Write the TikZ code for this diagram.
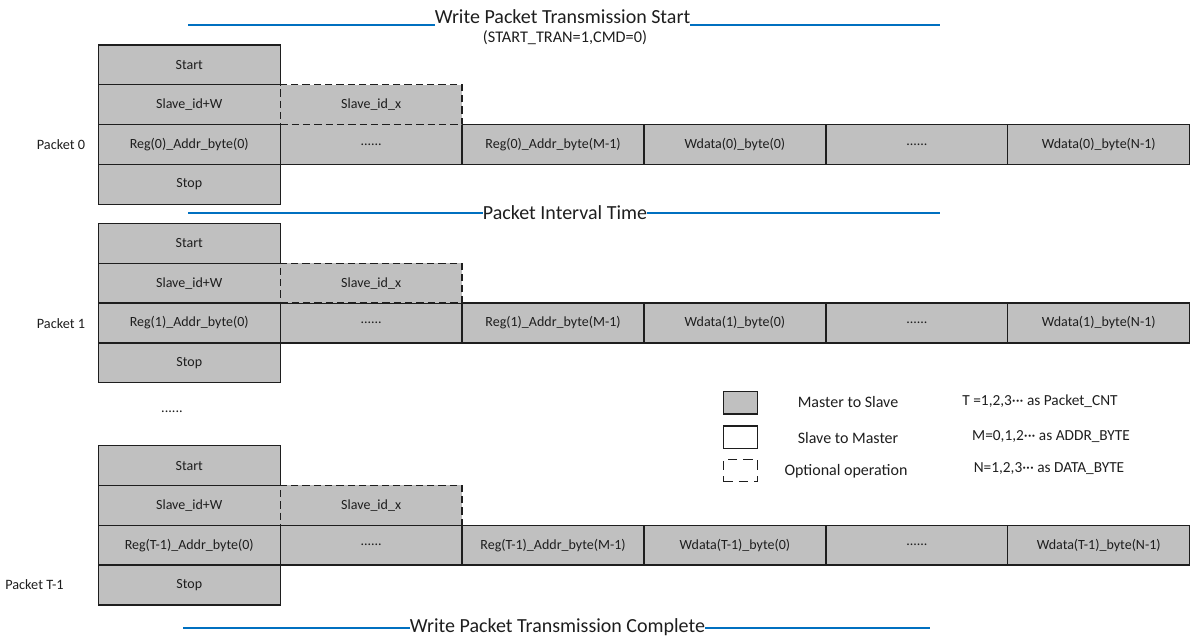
\documentclass[tikz,border=0pt]{standalone}
\usepackage{fontspec}
\setmainfont{Carlito}
\definecolor{boxgray}{RGB}{192,192,192}
\definecolor{lineblue}{RGB}{0,112,192}
\definecolor{ink}{RGB}{30,30,30}
\newcommand\drawpacket[3]{%
  \node[cell] (#1start) at (98.3,#2) {Start};
  \node[cell] (#1slv) at (98.3,#2+39.8) {Slave\_id+W};
  \node[cell] (#1rega) at (98.3,#2+79.6) {Reg(#3)\_Addr\_byte(0)};
  \node[cell] (#1regd) at (280.2,#2+79.6) {......};
  \node[cell] (#1regb) at (462.1,#2+79.6) {Reg(#3)\_Addr\_byte(M-1)};
  \node[cell] (#1wda) at (644.0,#2+79.6) {Wdata(#3)\_byte(0)};
  \node[cell] (#1wdd) at (825.9,#2+79.6) {......};
  \node[cell] (#1wdb) at (1007.8,#2+79.6) {Wdata(#3)\_byte(N-1)};
  \node[cell] (#1stop) at (98.3,#2+119.4) {Stop};
  \node[optcell] (#1slx) at (280.2,#2+39.8) {Slave\_id\_x};
}
\begin{document}
\begin{tikzpicture}[x=0.75pt,y=-0.75pt,
  cell/.style={draw=ink, line width=1pt, fill=boxgray, anchor=north west,
    minimum width=136.425pt, minimum height=29.85pt, inner sep=0pt, outer sep=0pt,
    text=ink, font=\fontsize{10.5}{12}\selectfont},
  optcell/.style={cell, dash pattern=on 5.5pt off 3pt},
  legbox/.style={draw=ink, line width=1pt, anchor=north west,
    minimum width=25.8pt, minimum height=16.7pt, inner sep=0pt, outer sep=0pt},
  blueline/.style={draw=lineblue, line width=1.6pt},
  titletext/.style={inner sep=0pt, outer sep=0pt, text=ink, font=\fontsize{15}{18}\selectfont},
  subtext/.style={inner sep=0pt, text=ink, font=\fontsize{12.2}{14}\selectfont},
  plabel/.style={inner sep=0pt, text=ink, font=\fontsize{10.7}{13}\selectfont},
  legtext/.style={inner sep=0pt, text=ink, font=\fontsize{12}{14}\selectfont},
  notetext/.style={inner sep=0pt, text=ink, font=\fontsize{11.5}{14}\selectfont}
]
\useasboundingbox (0,0) rectangle (1190,641);

% top title
\node[titletext] (t1) at (562.5,16.5) {Write Packet Transmission Start};
\node[subtext] (t1s) at (565,38) {(START\_TRAN=1,CMD=0)};
\coordinate (l1a) at (188,25);
\coordinate (l1b) at (940,25);
\draw[blueline] (l1a) -- (l1a -| t1.west);
\draw[blueline] (l1b -| t1.east) -- (l1b);

% packets
\drawpacket{pa}{45}{0}
\drawpacket{pb}{223.5}{1}
\drawpacket{pc}{445.7}{T-1}

\node[plabel] (lab0) at (61,144.5) {Packet 0};
\node[plabel] (lab1) at (61,323.5) {Packet 1};
\node[plabel, anchor=west] (lab2) at (5,585) {Packet T-1};

% interval
\node[titletext] (t2) at (565,213) {Packet Interval Time};
\coordinate (l2a) at (188,213);
\coordinate (l2b) at (940,213);
\draw[blueline] (l2a) -- (l2a -| t2.west);
\draw[blueline] (l2b -| t2.east) -- (l2b);

% vertical ellipsis between packets
\node[plabel] (gap) at (172,412) {......};

% legend
\node[legbox, fill=boxgray] (lg1) at (723.3,391.7) {};
\node[legbox, fill=white] (lg2) at (723.3,426) {};
\node[legbox, fill=white, dash pattern=on 7pt off 4.6pt] (lg3) at (723.3,459.3) {};
\node[legtext] (lt1) at (848,402) {Master to Slave};
\node[legtext] (lt2) at (848,438.5) {Slave to Master};
\node[legtext] (lt3) at (846,471) {Optional operation};
\node[notetext] (n1) at (1040,401) {T =1,2,3··· as Packet\_CNT};
\node[notetext] (n2) at (1051,437) {M=0,1,2··· as ADDR\_BYTE};
\node[notetext] (n3) at (1049,469) {N=1,2,3··· as DATA\_BYTE};

% bottom title
\node[titletext] (t3) at (557.5,627.5) {Write Packet Transmission Complete};
\coordinate (l3a) at (183,627.7);
\coordinate (l3b) at (930,627.7);
\draw[blueline] (l3a) -- (l3a -| t3.west);
\draw[blueline] (l3b -| t3.east) -- (l3b);
\end{tikzpicture}
\end{document}
